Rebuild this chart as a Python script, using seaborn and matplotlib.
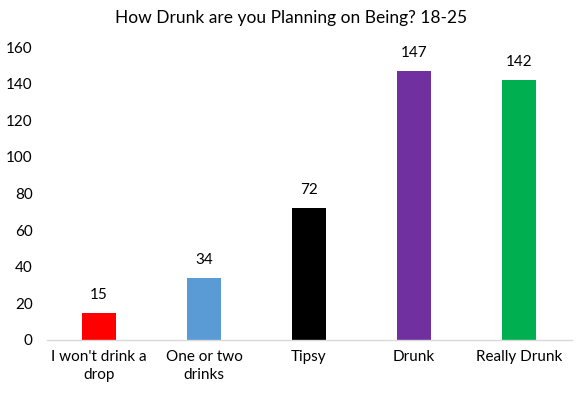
import matplotlib
matplotlib.use("Agg")
import matplotlib.pyplot as plt
import seaborn as sns
import pandas as pd

categories = ["I won't drink a\ndrop", "One or two\ndrinks", "Tipsy", "Drunk", "Really Drunk"]
values = [15, 34, 72, 147, 142]
colors = ["#ff0000", "#5b9bd5", "#000000", "#7030a0", "#00b050"]

sns.set_theme(style="white")
plt.rcParams['font.family'] = ['Lato', 'DejaVu Sans']

df = pd.DataFrame({"cat": categories, "val": values})

fig = plt.figure(figsize=(5.82, 3.97), dpi=100)
ax = fig.add_axes([0.080, 0.1436, 0.902, 0.738])
sns.barplot(data=df, x="cat", y="val", hue="cat", palette=colors, legend=False,
            width=0.32, saturation=1, linewidth=0, ax=ax)

for i, v in enumerate(values):
    ax.text(i, v + 6, str(v), ha="center", va="bottom", fontsize=11, color="#000000")

ax.set_ylim(0, 160)
ax.set_yticks(range(0, 161, 20))
ax.set_xlim(-0.5, len(values) - 0.5)
ax.set_xlabel("")
ax.set_ylabel("")
ax.tick_params(axis="both", length=0, labelsize=11, colors="#000000")
ax.tick_params(axis="y", pad=10)
ax.tick_params(axis="x", pad=7)
for lbl in ax.get_xticklabels():
    lbl.set_linespacing(1.35)
for s in ["top", "right", "left"]:
    ax.spines[s].set_visible(False)
ax.spines["bottom"].set_color("#d9d9d9")
ax.spines["bottom"].set_linewidth(1)

fig.text(0.5, 0.955, "How Drunk are you Planning on Being? 18-25", ha="center", va="center",
         fontsize=12.5, color="#000000")

fig.savefig("out.png", dpi=100)
